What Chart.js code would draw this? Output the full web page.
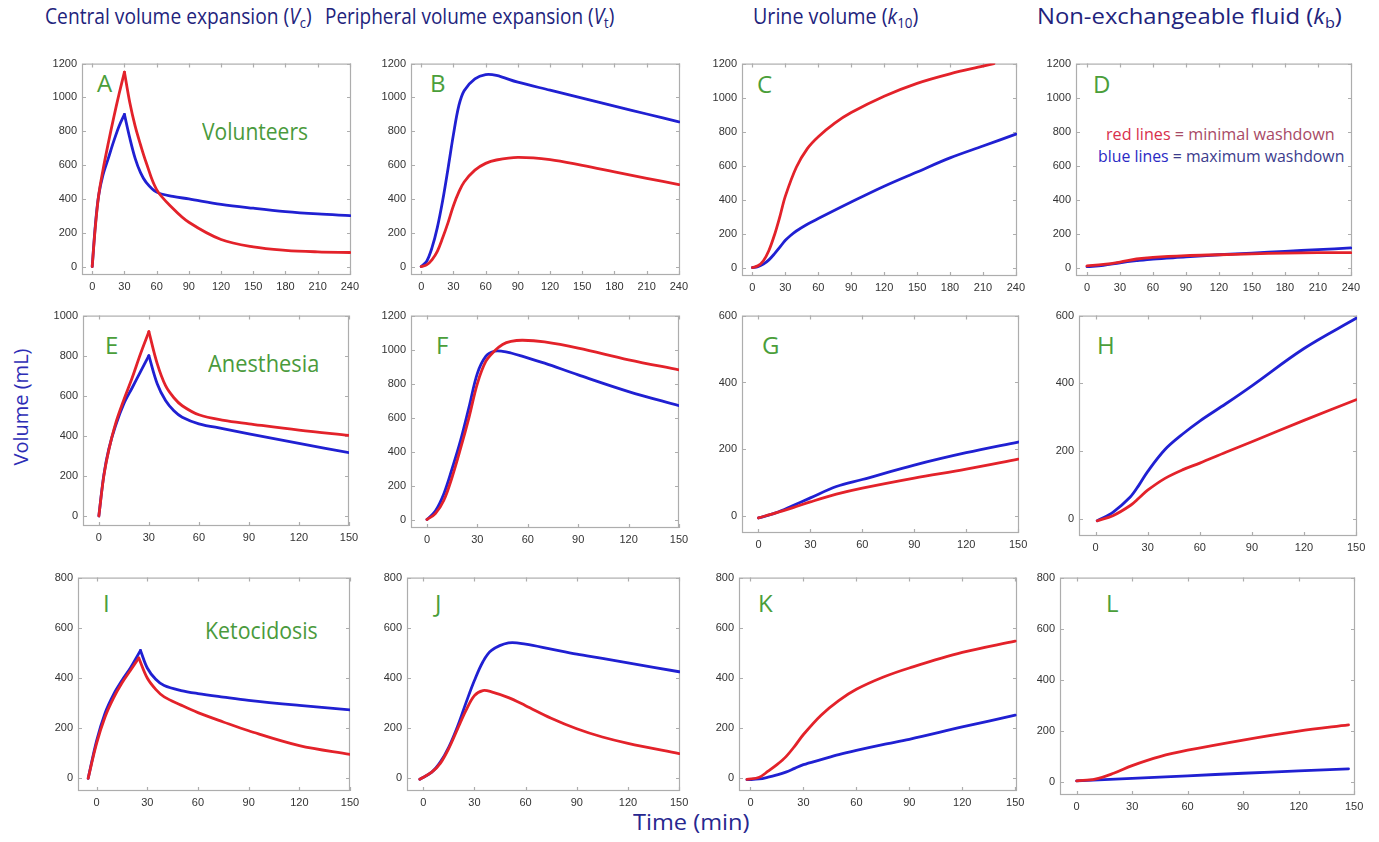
<!DOCTYPE html>
<html>
<head>
<meta charset="utf-8">
<script src="https://cdn.jsdelivr.net/npm/chart.js@4.4.1/dist/chart.umd.min.js"></script>
<style>
    body { margin: 0; background: #fff; }
    #page { position: relative; width: 1379px; height: 842px; overflow: hidden; background: #fff; font-family: "Open Sans", sans-serif; }
    #page canvas { position: absolute; }
    .t { position: absolute; white-space: nowrap; line-height: 1; transform-origin: 0 0; }
    .title { font-size: 21px; color: #22237c; }
    .tag { font-size: 24px; color: #4a9e3a; }
    .grp { font-size: 24px; color: #4a9a3c; }
    .leg { font-size: 17px; }
    sub { font-size: 0.68em; vertical-align: -0.3em; line-height: 0; }
</style>
</head>
<body>
<div id="page">
    <div class="t title" style="left:45px;top:6px" data-w="267">Central volume expansion (<i>V</i><sub>c</sub>)</div>
    <div class="t title" style="left:325px;top:6px" data-w="289">Peripheral volume expansion (<i>V</i><sub>t</sub>)</div>
    <div class="t title" style="left:753px;top:6px" data-w="165">Urine volume (<i>k</i><sub>10</sub>)</div>
    <div class="t title" style="left:1037px;top:6px" data-w="305">Non-exchangeable fluid (<i>k</i><sub>b</sub>)</div>

    <div class="t" style="left:-43px;top:396px;width:130px;height:22px;text-align:center;font-size:20px;color:#2d2db5;transform:rotate(-90deg);transform-origin:50% 50%">Volume (mL)</div>
    <div class="t" style="left:633px;top:812px;font-size:21px;color:#27278f" data-w="117">Time (min)</div>

    <div class="t grp" style="left:202px;top:119px" data-w="106">Volunteers</div>
    <div class="t grp" style="left:208px;top:351px" data-w="111">Anesthesia</div>
    <div class="t grp" style="left:205px;top:618px" data-w="113">Ketocidosis</div>

    <div class="t leg" style="left:1106px;top:125px" data-w="229"><span style="color:#d8304c">red lines</span> <span style="color:#a84a66">= minimal washdown</span></div>
    <div class="t leg" style="left:1098px;top:147px" data-w="246"><span style="color:#2a2ac4">blue lines</span> <span style="color:#3b3b8c">= maximum washdown</span></div>

    <div class="t tag" style="left:97px;top:71px">A</div>
    <div class="t tag" style="left:430px;top:71px">B</div>
    <div class="t tag" style="left:757px;top:72px">C</div>
    <div class="t tag" style="left:1093px;top:72px">D</div>
    <div class="t tag" style="left:105px;top:333px">E</div>
    <div class="t tag" style="left:436px;top:333px">F</div>
    <div class="t tag" style="left:762px;top:333px">G</div>
    <div class="t tag" style="left:1097px;top:333px">H</div>
    <div class="t tag" style="left:103px;top:591px">I</div>
    <div class="t tag" style="left:435px;top:591px">J</div>
    <div class="t tag" style="left:758px;top:591px">K</div>
    <div class="t tag" style="left:1106px;top:591px">L</div>
</div>

<script>
// tick labels
const X240 = [0, 30, 60, 90, 120, 150, 180, 210, 240];
const X150 = [0, 30, 60, 90, 120, 150];
const Y1200 = [0, 200, 400, 600, 800, 1000, 1200];
const Y1000 = [0, 200, 400, 600, 800, 1000];
const Y800 = [0, 200, 400, 600, 800];
const Y600 = [0, 200, 400, 600];

// Volunteers
const tA = [0, 3, 6, 10, 15, 20, 25, 30, 35, 40, 45, 50, 60, 75, 90, 120, 150, 180, 210, 240];
const redA = [0, 240, 420, 570, 730, 880, 1020, 1150, 970, 830, 720, 620, 455, 345, 262, 160, 116, 96, 87, 83];
const blueA = [0, 250, 420, 540, 640, 740, 830, 900, 760, 640, 555, 500, 440, 415, 400, 368, 345, 325, 311, 301];

const tB = [0, 5, 10, 15, 20, 25, 30, 35, 40, 50, 60, 70, 90, 120, 150, 180, 210, 240];
const redB = [0, 10, 40, 90, 170, 260, 360, 440, 500, 570, 610, 630, 645, 632, 598, 560, 522, 485];
const blueB = [0, 30, 110, 230, 390, 580, 780, 950, 1040, 1110, 1135, 1130, 1090, 1043, 996, 949, 902, 855];

const tCred = [0, 5, 10, 15, 20, 25, 30, 40, 50, 60, 75, 90, 120, 150, 180, 210, 220];
const redC = [0, 10, 40, 100, 190, 300, 420, 590, 700, 770, 850, 912, 1008, 1084, 1140, 1185, 1200];
const tCblue = [0, 5, 10, 15, 20, 25, 30, 35, 40, 50, 60, 90, 120, 150, 180, 210, 240];
const blueC = [0, 5, 20, 45, 80, 120, 160, 190, 215, 255, 288, 385, 478, 562, 645, 715, 785];

const tD = [0, 15, 30, 45, 60, 90, 120, 150, 180, 210, 240];
const redD = [10, 18, 32, 50, 60, 70, 75, 80, 85, 87, 87];
const blueD = [5, 13, 28, 40, 50, 62, 75, 85, 95, 105, 115];

// Anesthesia
const tE = [0, 3, 6, 10, 15, 20, 25, 30, 35, 40, 45, 50, 60, 75, 90, 120, 150];
const redE = [0, 200, 330, 460, 580, 690, 810, 920, 760, 650, 590, 550, 505, 477, 460, 428, 402];
const blueE = [0, 205, 335, 450, 560, 640, 720, 800, 660, 576, 525, 493, 460, 435, 410, 362, 316];

const tF = [0, 5, 10, 15, 20, 25, 30, 35, 40, 45, 50, 57, 70, 90, 120, 150];
const redF = [0, 35, 112, 250, 418, 600, 800, 930, 990, 1030, 1048, 1055, 1045, 1009, 940, 881];
const blueF = [0, 50, 150, 300, 465, 660, 860, 960, 990, 990, 980, 960, 920, 851, 753, 670];

const tG = [0, 10, 20, 30, 45, 60, 90, 120, 150];
const redG = [-5, 10, 26, 43, 66, 84, 114, 141, 171];
const blueG = [-5, 10, 32, 55, 89, 110, 153, 190, 222];

const tH = [1, 10, 20, 25, 30, 40, 50, 60, 75, 90, 120, 150];
const redH = [-5, 10, 40, 62, 85, 120, 145, 165, 197, 228, 291, 352];
const blueH = [-5, 20, 65, 100, 140, 205, 250, 289, 340, 393, 503, 592];

// Ketocidosis
const tIred = [-5, 0, 5, 10, 15, 20, 25, 30, 35, 40, 50, 60, 75, 90, 120, 150];
const redI = [0, 140, 245, 320, 380, 430, 480, 400, 355, 325, 292, 262, 225, 190, 131, 96];
const tIblue = [-5, 0, 5, 10, 15, 20, 26, 30, 35, 40, 50, 60, 75, 90, 120, 150];
const blueI = [0, 150, 260, 334, 390, 440, 510, 440, 395, 370, 350, 338, 324, 311, 291, 273];

const tJ = [-2, 5, 10, 15, 20, 25, 30, 35, 40, 50, 60, 75, 90, 105, 120, 150];
const redJ = [-3, 25, 60, 120, 195, 270, 330, 350, 345, 322, 290, 240, 198, 165, 140, 99];
const blueJ = [-3, 25, 65, 125, 205, 300, 390, 465, 510, 540, 535, 515, 495, 478, 460, 425];

const tK = [-2, 5, 10, 15, 20, 25, 30, 40, 50, 60, 75, 90, 120, 150];
const redK = [-4, 5, 29, 55, 86, 128, 175, 252, 310, 355, 403, 440, 502, 547];
const blueK = [-5, -2, 5, 14, 25, 40, 55, 75, 95, 112, 135, 156, 205, 252];

const tLred = [0, 10, 20, 30, 45, 60, 90, 120, 147];
const redL = [5, 12, 35, 65, 100, 125, 165, 200, 224];
const tLblue = [0, 30, 60, 90, 120, 147];
const blueL = [5, 15, 25, 35, 44, 52];

const RED = '#e3222a';
const BLUE = '#2020d2';

// panels: series + axis setup; cusp = end of infusion where the curve turns sharply
const panels = [
    { id: 'A', red: [tA, redA, 30], blue: [tA, blueA, 30], x: [-9.5, 241], y: [-50, 1200], xt: X240, yt: Y1200 },
    { id: 'B', red: [tB, redB], blue: [tB, blueB], x: [-9.5, 241], y: [-50, 1200], xt: X240, yt: Y1200 },
    { id: 'C', red: [tCred, redC], blue: [tCblue, blueC], x: [-9.5, 241], y: [-50, 1200], xt: X240, yt: Y1200 },
    { id: 'D', red: [tD, redD], blue: [tD, blueD], x: [-10, 241], y: [-50, 1200], xt: X240, yt: Y1200 },
    { id: 'E', red: [tE, redE, 30], blue: [tE, blueE, 30], x: [-9.5, 150], y: [-50, 1000], xt: X150, yt: Y1000 },
    { id: 'F', red: [tF, redF], blue: [tF, blueF], x: [-9.5, 150], y: [-50, 1200], xt: X150, yt: Y1200 },
    { id: 'G', red: [tG, redG], blue: [tG, blueG], x: [-9.5, 150.5], y: [-50, 600], xt: X150, yt: Y600 },
    { id: 'H', red: [tH, redH], blue: [tH, blueH], x: [-9.5, 150.5], y: [-50, 600], xt: X150, yt: Y600 },
    { id: 'I', red: [tIred, redI, 25], blue: [tIblue, blueI, 26], x: [-11, 150], y: [-50, 800], xt: X150, yt: Y800 },
    { id: 'J', red: [tJ, redJ], blue: [tJ, blueJ], x: [-9.5, 150.5], y: [-50, 800], xt: X150, yt: Y800 },
    { id: 'K', red: [tK, redK], blue: [tK, blueK], x: [-6.5, 151], y: [-50, 800], xt: X150, yt: Y800 },
    { id: 'L', red: [tLred, redL], blue: [tLblue, blueL], x: [-9, 150.5], y: [-50, 800], xt: X150, yt: Y800 }
];

// plot box of each panel on the page: left, top, right, bottom
const boxes = {
    A: [82, 62, 351, 275], B: [411, 62, 680, 275], C: [742, 62, 1017, 276], D: [1076, 62, 1352, 276],
    E: [83, 314, 349, 526], F: [411, 314, 679, 528], G: [742, 314, 1019, 533], H: [1079, 314, 1357, 536],
    I: [78, 576, 350, 791], J: [407, 576, 680, 791], K: [739, 576, 1017, 791], L: [1060, 576, 1355, 795]
};

// frame with small inward ticks on all four sides
const framePlugin = {
    id: 'frame',
    beforeDatasetsDraw(chart) {
        const { ctx, chartArea: a, scales } = chart;
        ctx.save();
        ctx.strokeStyle = '#adadad';
        ctx.lineWidth = 1.2;
        ctx.strokeRect(a.left + 0.5, a.top + 0.5, a.right - a.left - 1, a.bottom - a.top - 1);
        ctx.beginPath();
        scales.x.ticks.forEach(t => {
            const px = Math.round(scales.x.getPixelForValue(t.value)) + 0.5;
            ctx.moveTo(px, a.bottom); ctx.lineTo(px, a.bottom - 4);
            ctx.moveTo(px, a.top); ctx.lineTo(px, a.top + 4);
        });
        scales.y.ticks.forEach(t => {
            const py = Math.round(scales.y.getPixelForValue(t.value)) + 0.5;
            ctx.moveTo(a.left, py); ctx.lineTo(a.left + 4, py);
            ctx.moveTo(a.right, py); ctx.lineTo(a.right - 4, py);
        });
        ctx.stroke();
        ctx.restore();
    }
};

function lineSets(ser, color) {
    const ts = ser[0], vs = ser[1], cusp = ser[2];
    const pts = ts.map((x, i) => ({ x: x, y: vs[i] }));
    const base = { borderColor: color, borderWidth: 2.8, pointRadius: 0, fill: false,
        tension: 0.35, borderCapStyle: 'round', borderJoinStyle: 'round' };
    if (cusp === undefined) return [Object.assign({ data: pts }, base)];
    const k = ts.indexOf(cusp);
    return [Object.assign({ data: pts.slice(0, k + 1) }, base), Object.assign({ data: pts.slice(k) }, base)];
}

const PADL = 42, PADR = 16, PADT = 10, PADB = 22;
const tickFont = { family: 'Liberation Sans', size: 11 };
const page = document.getElementById('page');

panels.forEach(p => {
    const b = boxes[p.id];
    const cv = document.createElement('canvas');
    cv.width = b[2] - b[0] + PADL + PADR;
    cv.height = b[3] - b[1] + PADT + PADB;
    cv.style.left = (b[0] - PADL) + 'px';
    cv.style.top = (b[1] - PADT) + 'px';
    page.appendChild(cv);

    new Chart(cv.getContext('2d'), {
        type: 'line',
        data: { datasets: lineSets(p.red, RED).concat(lineSets(p.blue, BLUE)) },
        options: {
            responsive: false,
            animation: false,
            events: [],
            layout: { padding: { left: 2, right: PADR, top: PADT, bottom: 2 } },
            plugins: { legend: { display: false }, tooltip: { enabled: false } },
            scales: {
                x: {
                    type: 'linear', min: p.x[0], max: p.x[1],
                    grid: { display: false, drawTicks: false }, border: { display: false },
                    afterBuildTicks: s => { s.ticks = p.xt.map(v => ({ value: v })); },
                    afterFit: s => { s.height = 20; },
                    ticks: { padding: 5, font: tickFont, color: '#333', maxRotation: 0, autoSkip: false, callback: v => String(v) }
                },
                y: {
                    type: 'linear', min: p.y[0], max: p.y[1],
                    grid: { display: false, drawTicks: false }, border: { display: false },
                    afterBuildTicks: s => { s.ticks = p.yt.map(v => ({ value: v })); },
                    afterFit: s => { s.width = 40; },
                    ticks: { padding: 5, font: tickFont, color: '#333', autoSkip: false, callback: v => String(v) }
                }
            }
        },
        plugins: [framePlugin]
    });
});

// squeeze text to the widths seen in the figure
function fitText() {
    document.querySelectorAll('[data-w]').forEach(el => {
        el.style.transform = 'none';
        const k = +el.dataset.w / el.offsetWidth;
        el.style.transform = 'scaleX(' + k + ')';
    });
}
fitText();
if (document.fonts) document.fonts.ready.then(fitText);
</script>
</body>
</html>
